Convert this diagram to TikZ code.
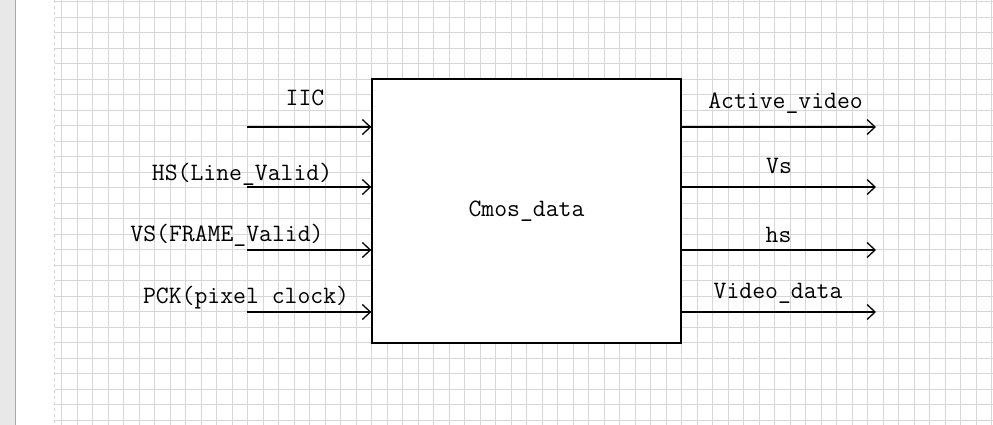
\documentclass[tikz,border=0pt]{standalone}
\usepackage{fontspec}
\usetikzlibrary{arrows.meta}
\definecolor{gridc}{HTML}{D6D6D6}
\definecolor{stripc}{HTML}{E8E8E8}
\definecolor{stripline}{HTML}{A8A8A8}
\tikzset{
  sig/.style={line width=1.4pt,-{Straight Barb[length=8pt,width=15pt,line width=1.3pt]}},
  lbl/.style={anchor=base,inner sep=0pt,font=\ttfamily\fontsize{25}{30}\selectfont},
  blockbox/.style={draw,line width=1.4pt,fill=white,minimum width=309pt,minimum height=264pt,inner sep=0pt,font=\ttfamily\fontsize{25}{30}\selectfont},
  gridline/.style={draw=gridc,line width=0.9pt}
}
\begin{document}
\begin{tikzpicture}[x=1pt,y=-1pt]
\useasboundingbox (0,0) rectangle (993,425);
\fill[white] (0,0) rectangle (993,425);
\fill[stripc] (0,0) rectangle (15,425);
\draw[stripline,line width=1.2pt] (15.5,0) -- (15.5,425);
% grid
\foreach \i in {0,...,60} {\draw[gridline] (61.7+15.5*\i,0) -- (61.7+15.5*\i,425);}
\foreach \j in {0,...,27} {\draw[gridline] (55,1.7+15.5*\j) -- (993,1.7+15.5*\j);}
\draw[gridc,line width=0.9pt,dashed] (54.5,0) -- (54.5,425);
% block
\node[blockbox] (box) at (526.5,211) {Cmos\_data};
% inputs
\coordinate (i1) at (247,127);
\coordinate (i2) at (247,187);
\coordinate (i3) at (247,250);
\coordinate (i4) at (247,312);
\draw[sig] (i1) -- (i1 -| box.west);
\draw[sig] (i2) -- (i2 -| box.west);
\draw[sig] (i3) -- (i3 -| box.west);
\draw[sig] (i4) -- (i4 -| box.west);
\node[lbl] (l1) at (305,106) {IIC};
\node[lbl] (l2) at (242,180) {HS(Line\_Valid)};
\node[lbl] (l3) at (227,241) {VS(FRAME\_Valid)};
\node[lbl] (l4) at (246,303) {PCK(pixel clock)};
% outputs
\coordinate (o1) at (876,127);
\coordinate (o2) at (876,187);
\coordinate (o3) at (876,250);
\coordinate (o4) at (876,312);
\draw[sig] (o1 -| box.east) -- (o1);
\draw[sig] (o2 -| box.east) -- (o2);
\draw[sig] (o3 -| box.east) -- (o3);
\draw[sig] (o4 -| box.east) -- (o4);
\node[lbl] (r1) at (785.5,109) {Active\_video};
\node[lbl] (r2) at (779,173) {Vs};
\node[lbl] (r3) at (778.5,242) {hs};
\node[lbl] (r4) at (778,298) {Video\_data};
\end{tikzpicture}
\end{document}
